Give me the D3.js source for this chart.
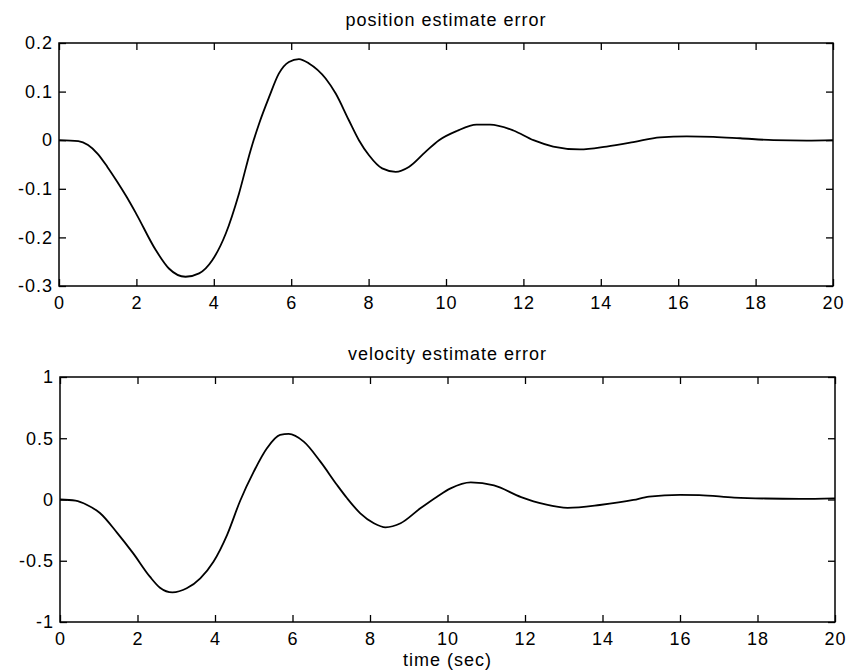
<!DOCTYPE html>
<html>
<head>
<meta charset="utf-8">
<script src="https://cdn.jsdelivr.net/npm/d3@7"></script>
<style>
  body { margin: 0; background: #fff; }
  text { font-family: "Liberation Sans", Arial, sans-serif; font-size: 18px; letter-spacing: 1px; fill: #000; }
</style>
</head>
<body>
<svg id="chart" width="849" height="671"></svg>
<script>
// time ticks shared by both panels
const timeTicks = [0, 2, 4, 6, 8, 10, 12, 14, 16, 18, 20];

// position estimate error
const posTime = [0, 0.5, 0.75, 1.0, 1.25, 1.5, 1.75, 2.0, 2.5, 2.84, 3.27, 3.62, 3.96, 4.31, 4.65, 4.95, 5.17,
  5.43, 5.68, 5.94, 6.2, 6.46, 6.89, 7.15, 7.49, 7.75, 8.01, 8.35, 8.7, 9.04, 9.47, 9.82, 10.28, 10.79,
  11.14, 11.74, 12.26, 12.77, 13.46, 14.15, 14.84, 15.53, 16.22, 16.91, 17.6, 18.46, 19.32, 20];
const posError = [0, -0.002, -0.01, -0.028, -0.055, -0.085, -0.117, -0.152, -0.226, -0.264, -0.281, -0.274,
  -0.247, -0.192, -0.110, -0.021, 0.034, 0.089, 0.137, 0.161, 0.167, 0.158, 0.127, 0.096, 0.041, 0.000,
  -0.031, -0.058, -0.065, -0.055, -0.024, 0.000, 0.019, 0.032, 0.032, 0.020, 0.000, -0.013, -0.019,
  -0.013, -0.004, 0.006, 0.008, 0.007, 0.004, 0.000, -0.001, 0.000];
const posTicks = [-0.3, -0.2, -0.1, 0, 0.1, 0.2];
const posLabels = ["-0.3", "-0.2", "-0.1", "0", "0.1", "0.2"];

// velocity estimate error
const velTime = [0, 0.4, 0.7, 1.03, 1.47, 1.89, 2.32, 2.58, 2.9, 3.27, 3.62, 3.96, 4.31, 4.65, 5.0, 5.34, 5.68,
  5.9, 6.29, 6.72, 7.15, 7.41, 7.75, 8.1, 8.4, 8.79, 9.3, 9.73, 10.08, 10.6, 11.2, 11.9, 12.5, 13.1,
  13.93, 14.8, 15.2, 16.0, 16.5, 17.4, 18.2, 19.1, 20];
const velError = [0, -0.01, -0.045, -0.11, -0.27, -0.44, -0.63, -0.72, -0.758, -0.725, -0.643, -0.508, -0.29,
  -0.01, 0.227, 0.418, 0.527, 0.535, 0.472, 0.309, 0.118, 0.01, -0.113, -0.194, -0.227, -0.194, -0.072,
  0.023, 0.091, 0.14, 0.115, 0.02, -0.038, -0.068, -0.045, -0.004, 0.024, 0.037, 0.035, 0.016, 0.008,
  0.005, 0.01];
const velTicks = [-1, -0.5, 0, 0.5, 1];
const velLabels = ["-1", "-0.5", "0", "0.5", "1"];

const svg = d3.select("#chart");

function panel(box, title, times, values, yTicks, yLabels, xTitle) {
  const x = d3.scaleLinear().domain([0, 20]).range([box.left, box.right]);
  const y = d3.scaleLinear().domain([yTicks[0], yTicks[yTicks.length - 1]]).range([box.bottom, box.top]);
  const g = svg.append("g");

  // inward ticks on all four sides, labels only bottom and left
  g.append("g")
    .attr("transform", `translate(0,${box.bottom})`)
    .call(d3.axisBottom(x).tickValues(timeTicks).tickFormat(d3.format("d"))
      .tickSizeInner(-7).tickSizeOuter(0).tickPadding(10));
  g.append("g")
    .attr("transform", `translate(0,${box.top})`)
    .call(d3.axisTop(x).tickValues(timeTicks).tickFormat("").tickSizeInner(-7).tickSizeOuter(0));
  g.append("g")
    .attr("transform", `translate(${box.left},0)`)
    .call(d3.axisLeft(y).tickValues(yTicks).tickFormat((d, i) => yLabels[i])
      .tickSizeInner(-7).tickSizeOuter(0).tickPadding(6));
  g.append("g")
    .attr("transform", `translate(${box.right},0)`)
    .call(d3.axisRight(y).tickValues(yTicks).tickFormat("").tickSizeInner(-7).tickSizeOuter(0));

  g.selectAll(".domain").remove();
  g.selectAll(".tick line").attr("stroke", "#000").attr("stroke-width", 1.3);
  g.selectAll(".tick text").style("font-size", "18px").attr("fill", "#000");

  g.append("rect")
    .attr("x", box.left).attr("y", box.top)
    .attr("width", box.right - box.left).attr("height", box.bottom - box.top)
    .attr("fill", "none").attr("stroke", "#000").attr("stroke-width", 1.5);

  const line = d3.line()
    .x((d, i) => x(times[i]))
    .y(d => y(d))
    .curve(d3.curveMonotoneX);

  g.append("path")
    .datum(values)
    .attr("d", line)
    .attr("fill", "none")
    .attr("stroke", "#000")
    .attr("stroke-width", 1.8);

  g.append("text")
    .attr("x", (box.left + box.right) / 2)
    .attr("y", box.top - 17)
    .attr("text-anchor", "middle")
    .text(title);

  if (xTitle) {
    g.append("text")
      .attr("x", (box.left + box.right) / 2)
      .attr("y", box.bottom + 44)
      .attr("text-anchor", "middle")
      .text(xTitle);
  }
}

panel({ left: 59, right: 833, top: 43, bottom: 286 }, "position estimate error",
  posTime, posError, posTicks, posLabels, null);
panel({ left: 60, right: 835, top: 377, bottom: 622 }, "velocity estimate error",
  velTime, velError, velTicks, velLabels, "time (sec)");
</script>
</body>
</html>
